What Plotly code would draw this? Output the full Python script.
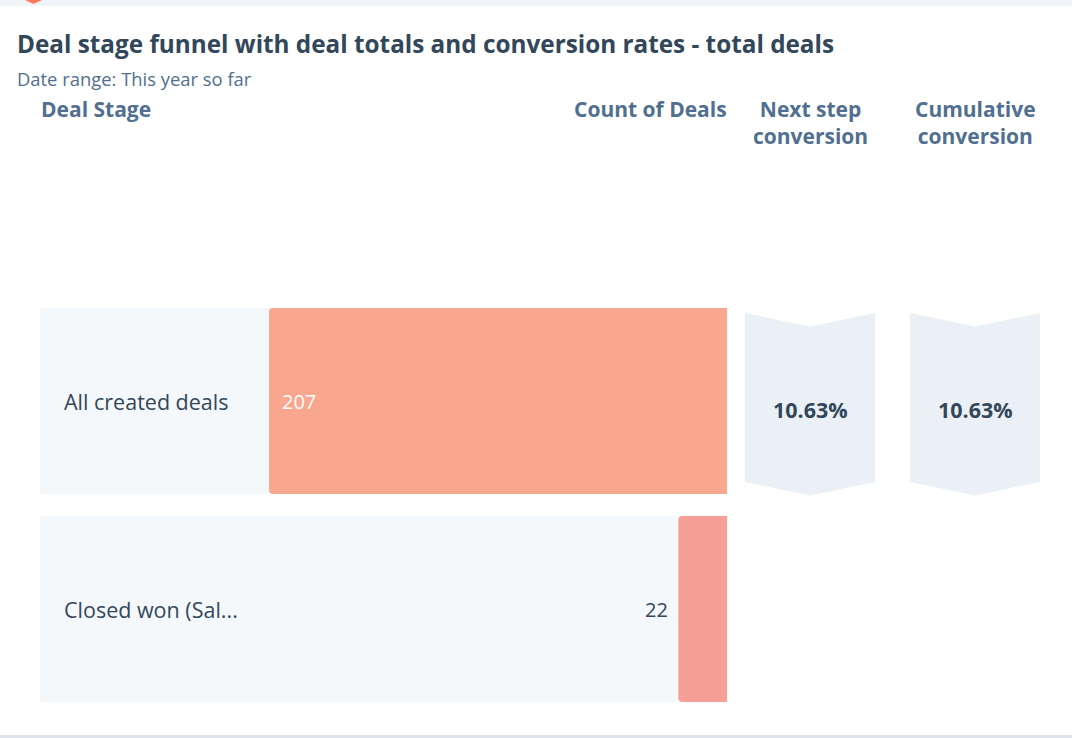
import plotly.graph_objects as go

# ---- data ----
stages = ["All created deals", "Closed won (Sal..."]
counts = [207, 22]
bar_colors = ["#f8a68e", "#f69f96"]
title = "Deal stage funnel with deal totals and conversion rates - total deals"
subtitle = "Date range: This year so far"
headers = ["Deal Stage", "Count of Deals", "Next step<br>conversion", "Cumulative<br>conversion"]

W, H = 1072, 738
FONT = "Open Sans"
DARK = "#33475b"
MID = "#516f90"
ROWBG = "#f5f8fa"
CHEV = "#eaf0f6"

def px(x):
    return x / W

def py(y):
    return 1 - y / H

next_conv = [counts[i + 1] / counts[i] * 100 for i in range(len(counts) - 1)]
cum_conv = [counts[i + 1] / counts[0] * 100 for i in range(len(counts) - 1)]

fig = go.Figure()
fig.add_trace(go.Bar(
    y=stages, x=counts, orientation="h",
    marker=dict(color=bar_colors, cornerradius=4, line=dict(width=0)),
    hoverinfo="skip", showlegend=False,
))

bargap = 22 / 208
fig.update_layout(
    width=W, height=H,
    margin=dict(l=0, r=0, t=0, b=0),
    paper_bgcolor="white", plot_bgcolor="rgba(0,0,0,0)",
    bargap=bargap,
    font=dict(family=FONT, color=DARK),
    xaxis=dict(domain=[px(269), px(727)], range=[max(counts), 0], visible=False, fixedrange=True),
    yaxis=dict(domain=[py(713), py(297)], autorange="reversed", visible=False, fixedrange=True),
)

shapes = []
# top strip / card frame
shapes.append(dict(type="rect", xref="paper", yref="paper", x0=0, x1=1, y0=py(6), y1=1,
                   fillcolor="#f0f3f7", line=dict(width=0), layer="below"))
shapes.append(dict(type="path", xref="paper", yref="paper",
                   path=f"M {px(25)},{py(0)} L {px(42)},{py(0)} L {px(33.5)},{py(4)} Z",
                   fillcolor="#ff7a59", line=dict(width=0)))
shapes.append(dict(type="rect", xref="paper", yref="paper", x0=0, x1=1, y0=0, y1=py(735),
                   fillcolor="#dfe3eb", line=dict(width=0)))

half = (1 - bargap) / 2
for i, (s, v) in enumerate(zip(stages, counts)):
    shapes.append(dict(type="rect", xref="paper", yref="y", x0=px(40), x1=px(727),
                       y0=i - half, y1=i + half, fillcolor=ROWBG, line=dict(width=0), layer="below"))

def chevron(xl, xr, yt, yb, notch):
    xc = (xl + xr) / 2
    return (f"M {px(xl)},{py(yt)} L {px(xc)},{py(yt + notch)} L {px(xr)},{py(yt)} "
            f"L {px(xr)},{py(yb)} L {px(xc)},{py(yb + notch)} L {px(xl)},{py(yb)} Z")

annotations = []
for i in range(len(next_conv)):
    row_top = 308 + i * 208
    for (xl, xr), val in (((745, 875), next_conv[i]), ((910, 1040), cum_conv[i])):
        shapes.append(dict(type="path", xref="paper", yref="paper",
                           path=chevron(xl, xr, row_top + 5, row_top + 174, 13.5),
                           fillcolor=CHEV, line=dict(width=0), layer="below"))
        annotations.append(dict(xref="paper", yref="paper", x=px((xl + xr) / 2), y=py(row_top + 101),
                                text=f"<b>{val:.2f}%</b>", showarrow=False,
                                xanchor="center", yanchor="middle",
                                font=dict(size=21.5, color=DARK, family=FONT)))

for i, (s, v) in enumerate(zip(stages, counts)):
    annotations.append(dict(xref="paper", yref="y", x=px(62), y=i, text=s, showarrow=False,
                            xanchor="left", yanchor="middle",
                            font=dict(size=21.5, color=DARK, family=FONT)))
    if v / max(counts) > 0.3:
        annotations.append(dict(xref="x", yref="y", x=v, y=i, text=str(v), showarrow=False,
                                xanchor="left", yanchor="middle", xshift=11,
                                font=dict(size=20, color="white", family=FONT)))
    else:
        annotations.append(dict(xref="x", yref="y", x=v, y=i, text=str(v), showarrow=False,
                                xanchor="right", yanchor="middle", xshift=-8,
                                font=dict(size=20, color=DARK, family=FONT)))

annotations.append(dict(xref="paper", yref="paper", x=px(15), y=py(43), text=f"<b>{title}</b>",
                        showarrow=False, xanchor="left", yanchor="middle",
                        font=dict(size=24.3, color=DARK, family=FONT)))
annotations.append(dict(xref="paper", yref="paper", x=px(15), y=py(78), text=subtitle,
                        showarrow=False, xanchor="left", yanchor="middle",
                        font=dict(size=18.4, color=MID, family=FONT)))
hdr_pos = [(px(39), "left"), (px(729), "right"), (px(810), "center"), (px(975), "center")]
for h, (x, anc) in zip(headers, hdr_pos):
    nlines = h.count("<br>") + 1
    annotations.append(dict(xref="paper", yref="paper", x=x, y=py(109 + (nlines - 1) * 13),
                            text=f"<b>{h}</b>", showarrow=False, xanchor=anc, yanchor="middle",
                            align="center", font=dict(size=21, color=MID, family=FONT)))

fig.update_layout(shapes=shapes, annotations=annotations)
fig.write_html("out.html", config={"displayModeBar": False},
               post_script="document.body.style.margin='0';")
